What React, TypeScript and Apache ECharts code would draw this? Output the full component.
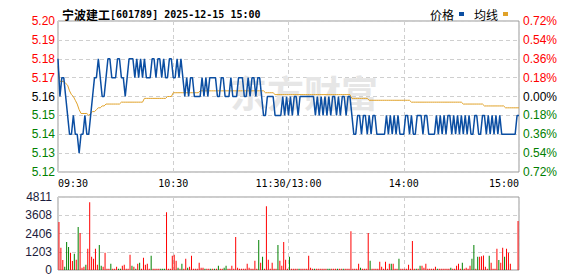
import React, { useEffect, useRef } from "react";
import * as echarts from "echarts";

const titleName = "宁波建工";
const titleRest = "[601789] 2025-12-15 15:00";
const prevClose = 5.16;
const xTickLabels = ["09:30", "10:30", "11:30/13:00", "14:00", "15:00"];
const legendNames = ["价格", "均线"];
const watermark = "东方财富";

const prices = [
  5.18, 5.16, 5.17, 5.17, 5.16, 5.15, 5.14, 5.14, 5.15, 5.14,
  5.14, 5.13, 5.14, 5.14, 5.15, 5.14, 5.14, 5.15, 5.16, 5.17,
  5.17, 5.18, 5.17, 5.16, 5.16, 5.17, 5.18, 5.18, 5.17, 5.17,
  5.17, 5.18, 5.18, 5.17, 5.17, 5.16, 5.17, 5.18, 5.18, 5.18,
  5.17, 5.18, 5.17, 5.18, 5.17, 5.18, 5.17, 5.17, 5.17, 5.18,
  5.18, 5.17, 5.18, 5.18, 5.17, 5.18, 5.17, 5.17, 5.18, 5.18,
  5.17, 5.17, 5.18, 5.17, 5.18, 5.17, 5.16, 5.17, 5.16, 5.17,
  5.17, 5.16, 5.16, 5.16, 5.16, 5.17, 5.16, 5.17, 5.16, 5.17,
  5.17, 5.17, 5.17, 5.16, 5.16, 5.17, 5.17, 5.16, 5.16, 5.16,
  5.17, 5.16, 5.16, 5.16, 5.17, 5.17, 5.17, 5.16, 5.16, 5.17,
  5.16, 5.17, 5.17, 5.16, 5.17, 5.17, 5.16, 5.15, 5.15, 5.16,
  5.16, 5.16, 5.16, 5.15, 5.15, 5.15, 5.15, 5.16, 5.15, 5.16,
  5.15, 5.16, 5.15, 5.16, 5.16, 5.15, 5.16, 5.16, 5.16, 5.16,
  5.16, 5.16, 5.16, 5.16, 5.15, 5.16, 5.15, 5.16, 5.15, 5.16,
  5.15, 5.16, 5.15, 5.16, 5.16, 5.15, 5.16, 5.15, 5.16, 5.16,
  5.15, 5.16, 5.16, 5.15, 5.14, 5.14, 5.15, 5.15, 5.14, 5.15,
  5.15, 5.14, 5.15, 5.14, 5.15, 5.15, 5.14, 5.14, 5.14, 5.14,
  5.14, 5.15, 5.14, 5.15, 5.14, 5.15, 5.14, 5.15, 5.14, 5.14,
  5.14, 5.15, 5.15, 5.14, 5.15, 5.14, 5.14, 5.15, 5.15, 5.15,
  5.14, 5.15, 5.15, 5.14, 5.14, 5.14, 5.14, 5.15, 5.14, 5.15,
  5.14, 5.15, 5.14, 5.15, 5.15, 5.14, 5.15, 5.14, 5.15, 5.14,
  5.15, 5.14, 5.15, 5.14, 5.15, 5.14, 5.14, 5.15, 5.15, 5.14,
  5.14, 5.15, 5.15, 5.14, 5.15, 5.14, 5.15, 5.14, 5.15, 5.14,
  5.15, 5.14, 5.14, 5.14, 5.14, 5.14, 5.14, 5.14, 5.14, 5.15,
  5.15,
];

const avgPrices = [
  5.176, 5.168, 5.168, 5.168, 5.167, 5.166, 5.163, 5.161, 5.160, 5.158,
  5.156, 5.153, 5.151, 5.151, 5.151, 5.151, 5.150, 5.151, 5.152, 5.152,
  5.153, 5.154, 5.154, 5.155, 5.155, 5.156, 5.156, 5.156, 5.156, 5.156,
  5.156, 5.156, 5.156, 5.157, 5.157, 5.157, 5.157, 5.157, 5.157, 5.157,
  5.157, 5.157, 5.157, 5.157, 5.157, 5.159, 5.159, 5.159, 5.159, 5.159,
  5.159, 5.159, 5.159, 5.159, 5.159, 5.159, 5.159, 5.160, 5.160, 5.160,
  5.162, 5.162, 5.162, 5.162, 5.162, 5.162, 5.162, 5.162, 5.162, 5.162,
  5.162, 5.162, 5.162, 5.162, 5.163, 5.163, 5.163, 5.163, 5.163, 5.163,
  5.163, 5.163, 5.163, 5.163, 5.163, 5.163, 5.163, 5.163, 5.163, 5.163,
  5.163, 5.163, 5.163, 5.163, 5.163, 5.163, 5.163, 5.163, 5.163, 5.163,
  5.163, 5.163, 5.163, 5.163, 5.163, 5.163, 5.163, 5.163, 5.162, 5.162,
  5.162, 5.162, 5.162, 5.161, 5.161, 5.161, 5.161, 5.161, 5.161, 5.161,
  5.161, 5.161, 5.161, 5.161, 5.161, 5.161, 5.161, 5.161, 5.161, 5.161,
  5.161, 5.161, 5.161, 5.161, 5.161, 5.161, 5.161, 5.161, 5.161, 5.161,
  5.161, 5.161, 5.161, 5.161, 5.161, 5.161, 5.161, 5.161, 5.161, 5.161,
  5.161, 5.161, 5.161, 5.159, 5.159, 5.159, 5.159, 5.159, 5.159, 5.159,
  5.159, 5.159, 5.158, 5.158, 5.158, 5.158, 5.158, 5.158, 5.158, 5.158,
  5.158, 5.158, 5.158, 5.158, 5.158, 5.158, 5.158, 5.158, 5.158, 5.158,
  5.158, 5.158, 5.158, 5.158, 5.157, 5.157, 5.157, 5.157, 5.157, 5.157,
  5.157, 5.157, 5.157, 5.157, 5.157, 5.157, 5.157, 5.157, 5.157, 5.157,
  5.157, 5.157, 5.157, 5.157, 5.157, 5.157, 5.157, 5.157, 5.157, 5.157,
  5.157, 5.156, 5.156, 5.156, 5.156, 5.156, 5.156, 5.156, 5.156, 5.156,
  5.156, 5.156, 5.155, 5.155, 5.155, 5.155, 5.155, 5.155, 5.155, 5.155,
  5.155, 5.155, 5.155, 5.154, 5.154, 5.154, 5.154, 5.154, 5.154, 5.154,
  5.154,
];

const volumes = [
  3157, 1459, 653, 218, 1850, 1524, 1132, 588, 1067, 675,
  2830, 2438, 152, 218, 348, 1393, 4463, 871, 740, 1393,
  348, 1654, 283, 218, 1132, 87, 87, 414, 87, 87,
  218, 87, 87, 283, 348, 87, 87, 1001, 283, 218,
  87, 414, 479, 87, 805, 348, 414, 87, 936, 87,
  87, 87, 87, 87, 87, 87, 3810, 87, 87, 936,
  1001, 610, 152, 87, 414, 87, 740, 152, 218, 936,
  87, 87, 87, 479, 152, 152, 87, 87, 87, 87,
  87, 87, 87, 283, 87, 87, 152, 283, 87, 87,
  283, 87, 2177, 152, 87, 87, 87, 87, 414, 152,
  87, 87, 610, 87, 1981, 479, 871, 87, 4200, 675,
  87, 479, 87, 87, 1654, 610, 283, 1850, 675, 87,
  871, 87, 87, 87, 87, 87, 87, 87, 87, 87,
  936, 152, 87, 87, 87, 87, 87, 87, 87, 87,
  87, 87, 87, 87, 87, 87, 87, 87, 87, 87,
  87, 87, 2547, 87, 87, 87, 414, 152, 87, 87,
  87, 2438, 610, 87, 87, 87, 87, 544, 218, 87,
  544, 87, 414, 414, 414, 87, 87, 740, 87, 87,
  87, 87, 348, 87, 1916, 87, 87, 87, 283, 283,
  152, 414, 87, 87, 87, 87, 218, 87, 87, 87,
  87, 87, 87, 87, 152, 87, 87, 283, 414, 87,
  479, 87, 152, 87, 283, 740, 1654, 87, 870, 870,
  900, 958, 218, 87, 936, 479, 87, 87, 1393, 653,
  479, 1459, 870, 1393, 1132, 414, 0, 0, 0, 3222,
];

// r = up (red), g = down (green), one letter per volume bar
const volumeDirs = (
  "rrrgggrrgr" + "grrrgrrrrr" + "rggrrrrgrr" + "rggrrrrrgr" +
  "grgrrrrrgr" + "rrrgggrrrr" + "rrgrgrrgrr" + "rrrrrrgrrg" +
  "rgrgrrggrr" + "rrrrrrrrrr" + "rrrrgrgrrr" + "rrrrgrrrrr" +
  "grrrrgrrrr" + "rrrgrrrrrr" + "ggrrrgrrgr" + "rrrrrrrgrr" +
  "rrgrrrrrrr" + "rrrgrrrgrr" + "rrrrrrgrgr" + "rrrrrrrgrr" +
  "rrrrgrrrrr" + "grrrrggrgr" + "rrrrgrrrrg" + "rrgrrrrrrr"
).split("");

const RED = "#ff0000";
const GREEN = "#008000";
const MONO = "'DejaVu Sans Mono', 'Liberation Mono', monospace";
const SANS = "'Liberation Sans', Arial, sans-serif";
const CJK = "'Noto Sans CJK SC', sans-serif";

export default function App() {
  const ref = useRef<HTMLDivElement>(null);

  useEffect(() => {
    if (!ref.current) return;
    const chart = echarts.init(ref.current, undefined, { renderer: "svg" });

    const dashed = { show: true, lineStyle: { color: "#cfcfcf", type: [4, 3] as any, width: 1 } };

    const option: any = {
      animation: false,
      backgroundColor: "#ffffff",
      title: {
        text: `{a|${titleName}}{b|${titleRest}}`,
        left: 57,
        top: 3,
        textStyle: {
          rich: {
            a: { fontFamily: CJK, fontSize: 12, color: "#000" },
            b: { fontFamily: MONO, fontSize: 10, color: "#000" },
          },
        },
      },
      legend: {
        data: legendNames,
        right: 65,
        top: 3,
        align: "right",
        icon: "rect",
        itemWidth: 5,
        itemHeight: 4,
        itemGap: 10,
        textStyle: { fontFamily: CJK, fontSize: 12, color: "#000" },
      },
      graphic: [
        {
          type: "text",
          left: 230,
          top: 73,
          z: 1,
          silent: true,
          style: {
            text: watermark,
            fontFamily: CJK,
            fontSize: 37,
            fontWeight: "bold",
            fill: "#e6e6e6",
          },
        },
      ],
      grid: [
        { left: 58, right: 59, top: 21, height: 151, show: true, borderColor: "#999", borderWidth: 1, backgroundColor: "transparent" },
        { left: 58, right: 59, top: 197, height: 73, show: true, borderColor: "#999", borderWidth: 1, backgroundColor: "transparent" },
      ],
      xAxis: [
        {
          type: "value",
          gridIndex: 0,
          min: 0,
          max: 240,
          interval: 60,
          axisLine: { show: false },
          axisTick: { show: false },
          splitLine: dashed,
          axisLabel: {
            formatter: (v: number) => xTickLabels[Math.round(v / 60)] ?? "",
            fontFamily: MONO,
            fontSize: 10,
            color: "#000",
            margin: 6,
            alignMinLabel: "left",
            alignMaxLabel: "right",
          },
        },
        {
          type: "value",
          gridIndex: 1,
          min: 0,
          max: 240,
          interval: 60,
          axisLine: { show: false },
          axisTick: { show: false },
          splitLine: dashed,
          axisLabel: { show: false },
        },
      ],
      yAxis: [
        {
          type: "value",
          gridIndex: 0,
          min: 5.12,
          max: 5.2,
          interval: 0.01,
          axisLine: { show: false },
          axisTick: { show: false },
          splitLine: dashed,
          axisLabel: {
            formatter: (v: number) => v.toFixed(2),
            color: (v: any) => {
              const n = parseFloat(v);
              if (n > prevClose + 0.001) return RED;
              if (n < prevClose - 0.001) return GREEN;
              return "#000";
            },
            fontFamily: SANS,
            fontSize: 12,
            margin: 3,
          },
        },
        {
          type: "value",
          gridIndex: 0,
          position: "right",
          min: -0.72,
          max: 0.72,
          interval: 0.18,
          axisLine: { show: false },
          axisTick: { show: false },
          splitLine: { show: false },
          axisLabel: {
            formatter: (v: number) => Math.abs(v).toFixed(2) + "%",
            color: (v: any) => {
              const n = parseFloat(v);
              if (n > 0.001) return RED;
              if (n < -0.001) return GREEN;
              return "#000";
            },
            fontFamily: SANS,
            fontSize: 12,
            margin: 4,
          },
        },
        {
          type: "value",
          gridIndex: 1,
          min: 0,
          max: 4811,
          interval: 4811 / 4,
          axisLine: { show: false },
          axisTick: { show: false },
          splitLine: dashed,
          axisLabel: {
            formatter: (v: number) => String(Math.round(v)),
            color: "#1c1c3c",
            fontFamily: SANS,
            fontSize: 12,
            margin: 6,
          },
        },
      ],
      series: [
        {
          name: legendNames[0],
          type: "line",
          xAxisIndex: 0,
          yAxisIndex: 0,
          data: prices.map((p, i) => [i, p]),
          showSymbol: false,
          symbol: "none",
          color: "#0b4ea2",
          lineStyle: { color: "#0b4ea2", width: 1.5 },
          z: 4,
        },
        {
          name: legendNames[1],
          type: "line",
          xAxisIndex: 0,
          yAxisIndex: 0,
          data: avgPrices.map((p, i) => [i, p]),
          showSymbol: false,
          symbol: "none",
          color: "#e0a229",
          lineStyle: { color: "#e0a229", width: 1 },
          z: 3,
        },
        {
          name: "成交量",
          type: "bar",
          xAxisIndex: 1,
          yAxisIndex: 2,
          barWidth: 1,
          data: volumes.map((v, k) => ({
            value: [k + 0.5, v],
            itemStyle: { color: volumeDirs[k] === "g" ? GREEN : RED },
          })),
        },
      ],
    };

    chart.setOption(option);
    return () => chart.dispose();
  }, []);

  return (
    <div
      ref={ref}
      style={{ position: "fixed", left: 0, top: 0, width: 578, height: 276, background: "#fff" }}
    />
  );
}
